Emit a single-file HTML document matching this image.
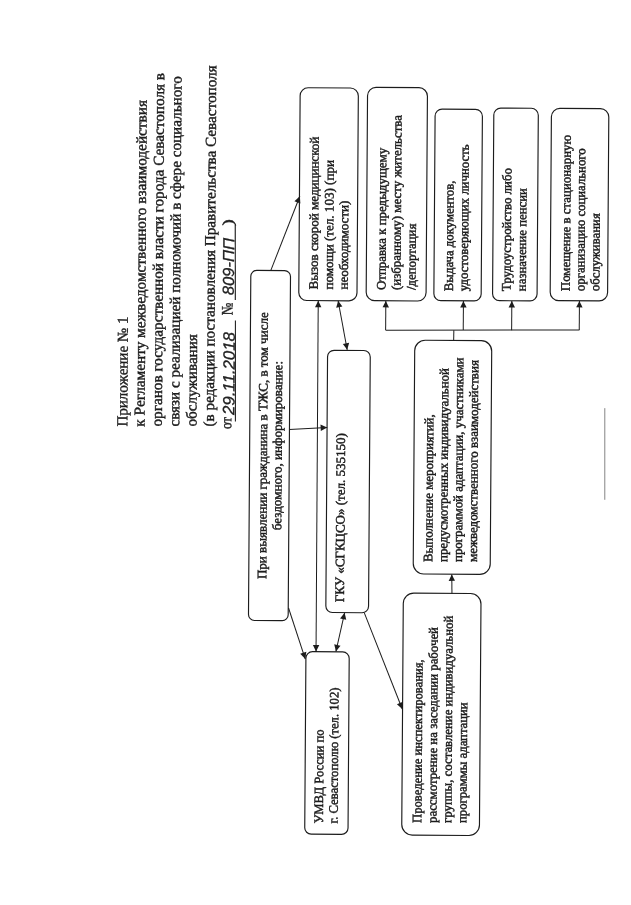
<!DOCTYPE html>
<html lang="ru">
<head>
<meta charset="utf-8">
<title>Приложение № 1</title>
<style>
html,body{margin:0;padding:0;background:#fff;}
body{width:631px;height:905px;overflow:hidden;}
svg{display:block;filter:grayscale(1);}
text{font-family:"Liberation Serif","DejaVu Serif",serif;fill:#1c1c1c;white-space:pre;}
.t{stroke:#1c1c1c;stroke-width:0.45px;}
.h{stroke:#1c1c1c;stroke-width:0.4px;}
.hw{font-family:"Liberation Sans","DejaVu Sans",sans-serif;font-style:italic;fill:#222;stroke:#222;stroke-width:0.3px;}
.bx rect{fill:none;stroke:#1c1c1c;stroke-width:1.15;}
.ar line{stroke:#1c1c1c;stroke-width:1;}
.ar polygon{fill:#1c1c1c;stroke:none;}
</style>
</head>
<body>
<svg width="631" height="905" viewBox="0 0 631 905">
<rect x="0" y="0" width="631" height="905" fill="#fff"/>
<g transform="translate(0,905) rotate(-90) rotate(0.39 452.5 315.5)">
<g class="bx">
<rect x="284.1" y="249.6" width="350.1" height="39.7" rx="6" ry="6"/>
<rect x="70.8" y="307.3" width="182.5" height="43.3" rx="6.5" ry="6.5"/>
<rect x="292.6" y="326.9" width="262.2" height="42.7" rx="6.5" ry="6.5"/>
<rect x="604.4" y="297.7" width="212.8" height="58.2" rx="8" ry="8"/>
<rect x="604.7" y="365.1" width="213.3" height="59.9" rx="8.5" ry="8.5"/>
<rect x="605.2" y="432.8" width="191.5" height="47.3" rx="7" ry="7"/>
<rect x="605.6" y="491.5" width="192.6" height="44.5" rx="7" ry="7"/>
<rect x="606.0" y="549.1" width="192.3" height="57.4" rx="8.5" ry="8.5"/>
<rect x="331.7" y="414.0" width="233.8" height="77.0" rx="10.5" ry="10.5"/>
<rect x="70.6" y="404.3" width="242.0" height="77.7" rx="10.5" ry="10.5"/>
</g>
<g class="ar">
<line x1="634.1" y1="269.5" x2="708.6" y2="298.1"/>
<polygon points="708.6,298.1 703.7,292.7 701.4,298.7"/>
<line x1="604.2" y1="317.2" x2="253.6" y2="317.4"/>
<polygon points="253.6,317.4 260.1,320.6 260.1,314.2"/>
<polygon points="604.2,317.2 597.7,314.0 597.7,320.4"/>
<line x1="604.4" y1="337.1" x2="555.4" y2="346.5"/>
<polygon points="555.4,346.5 562.4,348.4 561.2,342.1"/>
<polygon points="604.4,337.1 597.4,335.2 598.6,341.4"/>
<line x1="475.2" y1="289.1" x2="477.7" y2="327.0"/>
<polygon points="477.7,327.0 480.5,320.3 474.1,320.7"/>
<line x1="296.8" y1="289.6" x2="245.9" y2="306.7"/>
<polygon points="245.9,306.7 253.1,307.7 251.1,301.6"/>
<line x1="292.4" y1="345.7" x2="253.7" y2="337.3"/>
<polygon points="253.7,337.3 259.4,341.8 260.8,335.5"/>
<polygon points="292.4,345.7 286.7,341.2 285.4,347.4"/>
<line x1="292.5" y1="365.4" x2="196.6" y2="404.0"/>
<polygon points="196.6,404.0 203.8,404.6 201.4,398.6"/>
<line x1="312.5" y1="452.9" x2="331.5" y2="452.6"/>
<polygon points="331.5,452.6 325.0,449.5 325.1,455.9"/>
<line x1="565.5" y1="452.9" x2="575.8" y2="453.0"/>
<line x1="575.2" y1="384.7" x2="576.9" y2="578.6"/>
<line x1="575.4" y1="384.8" x2="604.6" y2="384.8"/>
<polygon points="604.6,384.8 598.1,381.6 598.1,388.0"/>
<line x1="575.9" y1="462.4" x2="605.1" y2="462.4"/>
<polygon points="605.1,462.4 598.6,459.2 598.6,465.6"/>
<line x1="576.2" y1="510.8" x2="605.4" y2="510.8"/>
<polygon points="605.4,510.8 598.9,507.6 598.9,514.0"/>
<line x1="576.7" y1="578.4" x2="605.9" y2="578.4"/>
<polygon points="605.9,578.4 599.4,575.2 599.4,581.6"/>
</g>
<line x1="407.2" y1="605.1" x2="498.8" y2="604.5" stroke="#777" stroke-width="0.9"/>
<text class="h" x="477.1" y="127.0" font-size="15.15" textLength="110.1" lengthAdjust="spacingAndGlyphs">Приложение № 1</text>
<text class="h" x="477.2" y="144.3" font-size="15.15" textLength="326.6" lengthAdjust="spacingAndGlyphs">к Регламенту межведомственного взаимодействия</text>
<text class="h" x="477.4" y="161.7" font-size="15.15" textLength="353.6" lengthAdjust="spacingAndGlyphs">органов государственной власти города Севастополя в</text>
<text class="h" x="477.5" y="179.0" font-size="15.15" textLength="350.3" lengthAdjust="spacingAndGlyphs">связи с реализацией полномочий в сфере социального</text>
<text class="h" x="477.6" y="196.3" font-size="15.15" textLength="92.4" lengthAdjust="spacingAndGlyphs">обслуживания</text>
<text class="h" x="477.7" y="213.7" font-size="15.15" textLength="361.2" lengthAdjust="spacingAndGlyphs">(в редакции постановления Правительства Севастополя</text>
<text class="h" x="475.4" y="231.0" font-size="15.15" textLength="12.0" lengthAdjust="spacingAndGlyphs">от</text>
<text class="h" x="589.2" y="231.5" font-size="16" textLength="12.6" lengthAdjust="spacingAndGlyphs">№</text>
<text class="h" x="678.6" y="231.3" font-size="15" textLength="6.6" lengthAdjust="spacingAndGlyphs">)</text>
<line x1="483.0" y1="235.2" x2="584.0" y2="234.5" stroke="#1c1c1c" stroke-width="1.1"/>
<line x1="604.5" y1="234.3" x2="679.9" y2="233.7" stroke="#1c1c1c" stroke-width="1.1"/>
<text class="hw" x="489.4" y="234.1" font-size="16.5" textLength="83.0" lengthAdjust="spacingAndGlyphs">29.11.2018</text>
<text class="hw" x="609.1" y="232.8" font-size="16" textLength="57.3" lengthAdjust="spacingAndGlyphs">809-ПП</text>
<text class="t" x="325.6" y="267.0" font-size="13" textLength="266.8" lengthAdjust="spacingAndGlyphs">При выявлении гражданина в ТЖС, в том числе</text>
<text class="t" x="374.6" y="281.7" font-size="13" textLength="169.2" lengthAdjust="spacingAndGlyphs">бездомного, информирование:</text>
<text class="t" x="81.5" y="325.5" font-size="13" textLength="94.1" lengthAdjust="spacingAndGlyphs">УМВД России по</text>
<text class="t" x="81.6" y="340.1" font-size="13" textLength="136.0" lengthAdjust="spacingAndGlyphs">г. Севастополю (тел. 102)</text>
<text class="t" x="303.0" y="345.0" font-size="13" textLength="169.1" lengthAdjust="spacingAndGlyphs">ГКУ «СГКЦСО» (тел. 535150)</text>
<text class="t" x="615.5" y="316.6" font-size="13" textLength="152.8" lengthAdjust="spacingAndGlyphs">Вызов скорой медицинской</text>
<text class="t" x="615.6" y="331.8" font-size="13" textLength="129.5" lengthAdjust="spacingAndGlyphs">помощи (тел. 103) (при</text>
<text class="t" x="615.7" y="346.7" font-size="13" textLength="88.9" lengthAdjust="spacingAndGlyphs">необходимости)</text>
<text class="t" x="615.4" y="384.4" font-size="13" textLength="142.3" lengthAdjust="spacingAndGlyphs">Отправка к предыдущему</text>
<text class="t" x="615.5" y="399.3" font-size="13" textLength="175.1" lengthAdjust="spacingAndGlyphs">(избранному) месту жительства</text>
<text class="t" x="615.6" y="414.4" font-size="13" textLength="66.5" lengthAdjust="spacingAndGlyphs">/депортация</text>
<text class="t" x="614.8" y="451.8" font-size="13" textLength="110.6" lengthAdjust="spacingAndGlyphs">Выдача документов,</text>
<text class="t" x="614.9" y="466.7" font-size="13" textLength="146.8" lengthAdjust="spacingAndGlyphs">удостоверяющих личность</text>
<text class="t" x="615.2" y="509.5" font-size="13" textLength="123.1" lengthAdjust="spacingAndGlyphs">Трудоустройство либо</text>
<text class="t" x="615.3" y="524.7" font-size="13" textLength="103.0" lengthAdjust="spacingAndGlyphs">назначение пенсии</text>
<text class="t" x="615.6" y="568.7" font-size="13" textLength="156.3" lengthAdjust="spacingAndGlyphs">Помещение в стационарную</text>
<text class="t" x="615.7" y="583.3" font-size="13" textLength="142.8" lengthAdjust="spacingAndGlyphs">организацию социального</text>
<text class="t" x="615.8" y="598.2" font-size="13" textLength="77.9" lengthAdjust="spacingAndGlyphs">обслуживания</text>
<text class="t" x="343.8" y="433.1" font-size="13" textLength="147.7" lengthAdjust="spacingAndGlyphs">Выполнение мероприятий,</text>
<text class="t" x="343.9" y="447.9" font-size="13" textLength="194.0" lengthAdjust="spacingAndGlyphs">предусмотренных индивидуальной</text>
<text class="t" x="344.0" y="462.7" font-size="13" textLength="204.5" lengthAdjust="spacingAndGlyphs">программой адаптации, участниками</text>
<text class="t" x="344.1" y="477.7" font-size="13" textLength="201.9" lengthAdjust="spacingAndGlyphs">межведомственного взаимодействия</text>
<text class="t" x="82.8" y="423.9" font-size="13" textLength="163.6" lengthAdjust="spacingAndGlyphs">Проведение инспектирования,</text>
<text class="t" x="82.9" y="439.0" font-size="13" textLength="195.9" lengthAdjust="spacingAndGlyphs">рассмотрение на заседании рабочей</text>
<text class="t" x="83.0" y="453.9" font-size="13" textLength="207.2" lengthAdjust="spacingAndGlyphs">группы, составление индивидуальной</text>
<text class="t" x="83.1" y="468.9" font-size="13" textLength="120.6" lengthAdjust="spacingAndGlyphs">программы адаптации</text>
</g>
</svg>
</body>
</html>
